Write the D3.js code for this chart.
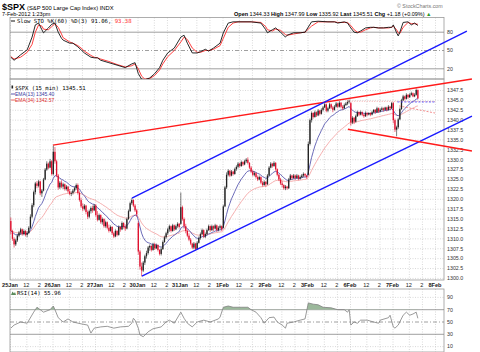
<!DOCTYPE html>
<html><head><meta charset="utf-8">
<script src="https://cdn.jsdelivr.net/npm/d3@7"></script>
<style>
body{margin:0;background:#fff}
svg{display:block;font-family:"Liberation Sans",Arial,sans-serif}
</style></head><body>
<svg id="chart" width="480" height="352"></svg>
<script>
// day labels on the time axis (26 bars of 15 min per session)
const days = ["25Jan","26Jan","27Jan","30Jan","31Jan","1Feb","2Feb","3Feb","6Feb","7Feb","8Feb"];

// [open, high, low, close] per 15 min bar, one array per session
const d25Jan = [[1314.5,1315.4,1311.2,1312.0],[1312.0,1312.3,1309.5,1310.0],[1310.0,1310.4,1307.8,1308.6],[1308.6,1310.0,1308.2,1309.6],[1309.6,1311.2,1309.2,1310.8],[1310.8,1312.0,1310.4,1311.6],[1311.6,1312.8,1311.0,1312.4],[1312.4,1312.6,1310.8,1311.2],[1311.2,1312.4,1310.9,1312.0],[1312.0,1312.2,1310.6,1311.0],[1311.0,1312.0,1310.4,1311.5],[1311.5,1313.2,1311.2,1312.8],[1312.8,1316.2,1312.5,1315.6],[1315.6,1319.0,1315.2,1318.5],[1318.5,1322.2,1318.0,1321.8],[1321.8,1324.4,1321.2,1324.0],[1324.0,1324.6,1322.8,1323.4],[1323.4,1324.9,1323.0,1324.5],[1324.5,1324.7,1321.0,1321.5],[1321.5,1322.6,1320.6,1322.2],[1322.2,1325.4,1322.0,1325.0],[1325.0,1327.9,1324.8,1327.5],[1327.5,1329.6,1327.2,1329.0],[1329.0,1329.3,1327.6,1328.0],[1328.0,1330.2,1327.8,1329.6],[1329.6,1329.9,1326.0,1326.4]];
const d26Jan = [[1326.4,1333.6,1326.0,1332.0],[1332.0,1333.2,1329.0,1329.6],[1329.6,1330.0,1325.6,1326.0],[1326.0,1326.4,1322.4,1323.0],[1323.0,1324.6,1322.6,1324.2],[1324.2,1324.8,1322.8,1323.2],[1323.2,1324.2,1322.6,1323.8],[1323.8,1324.0,1322.2,1322.6],[1322.6,1323.6,1322.2,1323.2],[1323.2,1323.4,1321.6,1322.0],[1322.0,1322.6,1321.0,1321.4],[1321.4,1322.0,1320.8,1321.6],[1321.6,1322.6,1321.2,1322.2],[1322.2,1323.2,1321.8,1322.8],[1322.8,1324.0,1322.4,1323.6],[1323.6,1324.0,1321.2,1321.6],[1321.6,1322.0,1319.4,1319.8],[1319.8,1320.4,1317.8,1318.2],[1318.2,1319.0,1317.0,1317.6],[1317.6,1318.8,1317.2,1318.4],[1318.4,1318.6,1316.2,1316.8],[1316.8,1317.2,1315.0,1315.6],[1315.6,1317.4,1315.2,1317.0],[1317.0,1318.2,1316.4,1317.8],[1317.8,1318.4,1316.6,1317.2],[1317.2,1318.8,1317.0,1318.4]];
const d27Jan = [[1318.4,1318.8,1315.6,1316.0],[1316.0,1317.0,1314.4,1314.8],[1314.8,1316.4,1314.6,1316.0],[1316.0,1316.2,1313.8,1314.2],[1314.2,1315.4,1313.6,1315.0],[1315.0,1315.2,1312.8,1313.2],[1313.2,1314.6,1312.8,1314.2],[1314.2,1314.4,1312.4,1312.8],[1312.8,1313.6,1311.6,1312.0],[1312.0,1313.4,1311.8,1313.0],[1313.0,1313.2,1311.0,1311.4],[1311.4,1311.8,1310.2,1310.6],[1310.6,1312.4,1310.4,1312.0],[1312.0,1312.2,1310.6,1311.0],[1311.0,1313.4,1310.8,1313.0],[1313.0,1313.2,1311.8,1312.4],[1312.4,1314.4,1312.2,1314.0],[1314.0,1314.2,1312.6,1313.0],[1313.0,1313.6,1312.0,1312.6],[1312.6,1315.4,1312.4,1315.0],[1315.0,1317.4,1314.8,1317.0],[1317.0,1319.4,1316.8,1319.0],[1319.0,1320.3,1318.6,1319.8],[1319.8,1320.0,1318.0,1318.4],[1318.4,1318.8,1316.8,1317.2],[1317.2,1317.6,1315.6,1316.2]];
const d30Jan = [[1314.0,1314.4,1306.0,1306.8],[1306.8,1307.2,1302.2,1303.0],[1303.0,1304.0,1300.5,1302.0],[1302.0,1304.4,1301.6,1304.0],[1304.0,1306.0,1303.4,1305.6],[1305.6,1307.0,1305.0,1306.4],[1306.4,1308.2,1306.0,1307.8],[1307.8,1308.6,1307.0,1308.2],[1308.2,1308.4,1306.8,1307.2],[1307.2,1309.0,1307.0,1308.6],[1308.6,1309.0,1307.2,1307.6],[1307.6,1308.8,1307.4,1308.4],[1308.4,1308.6,1306.8,1307.2],[1307.2,1307.4,1305.8,1306.2],[1306.2,1307.8,1305.8,1307.4],[1307.4,1309.6,1307.2,1309.2],[1309.2,1310.8,1309.0,1310.4],[1310.4,1311.8,1310.0,1311.4],[1311.4,1312.8,1311.0,1312.4],[1312.4,1313.6,1311.8,1313.2],[1313.2,1313.4,1311.6,1312.0],[1312.0,1313.8,1311.8,1313.4],[1313.4,1313.6,1312.0,1312.4],[1312.4,1313.6,1312.2,1313.2],[1313.2,1314.2,1312.8,1313.8],[1313.8,1314.0,1312.6,1313.0]];
const d31Jan = [[1313.8,1321.7,1313.6,1318.0],[1318.0,1318.4,1314.6,1315.0],[1315.0,1315.4,1312.6,1313.2],[1313.2,1313.8,1311.4,1312.0],[1312.0,1312.4,1310.4,1310.8],[1310.8,1311.4,1309.4,1309.8],[1309.8,1310.2,1308.4,1308.8],[1308.8,1309.0,1307.4,1307.8],[1307.8,1309.2,1307.4,1308.8],[1308.8,1309.0,1307.0,1307.4],[1307.4,1309.4,1307.2,1309.0],[1309.0,1310.6,1308.8,1310.2],[1310.2,1311.6,1309.8,1311.2],[1311.2,1312.6,1311.0,1312.2],[1312.2,1312.4,1310.2,1310.6],[1310.6,1311.6,1310.2,1311.2],[1311.2,1312.6,1311.0,1312.2],[1312.2,1313.6,1312.0,1313.2],[1313.2,1313.4,1311.8,1312.2],[1312.2,1313.6,1312.0,1313.2],[1313.2,1313.4,1312.0,1312.6],[1312.6,1313.8,1312.4,1313.4],[1313.4,1313.6,1311.8,1312.2],[1312.2,1313.2,1311.9,1312.8],[1312.8,1313.6,1312.4,1313.2],[1313.2,1313.4,1312.0,1312.4]];
const d1Feb = [[1312.8,1318.6,1312.6,1318.2],[1318.2,1323.4,1318.0,1323.0],[1323.0,1326.8,1322.6,1326.2],[1326.2,1327.6,1325.8,1327.2],[1327.2,1327.4,1325.6,1326.0],[1326.0,1327.4,1325.8,1327.0],[1327.0,1327.2,1326.0,1326.4],[1326.4,1328.0,1326.2,1327.6],[1327.6,1328.6,1327.2,1328.2],[1328.2,1329.4,1327.8,1329.0],[1329.0,1329.2,1328.0,1328.4],[1328.4,1329.8,1328.2,1329.4],[1329.4,1329.6,1328.4,1328.8],[1328.8,1330.0,1328.6,1329.6],[1329.6,1330.4,1329.2,1330.0],[1330.0,1330.6,1328.8,1329.2],[1329.2,1329.4,1327.6,1328.0],[1328.0,1328.4,1326.6,1327.0],[1327.0,1327.4,1325.8,1326.2],[1326.2,1327.0,1325.8,1326.6],[1326.6,1326.8,1325.2,1325.6],[1325.6,1326.0,1324.6,1325.0],[1325.0,1326.0,1324.8,1325.6],[1325.6,1325.8,1323.8,1324.2],[1324.2,1324.6,1323.2,1323.6],[1323.6,1324.8,1323.4,1324.4]];
const d2Feb = [[1324.4,1324.6,1323.2,1323.8],[1323.8,1326.4,1323.6,1326.0],[1326.0,1328.4,1325.8,1328.0],[1328.0,1329.4,1327.8,1329.0],[1329.0,1329.2,1328.0,1328.4],[1328.4,1329.6,1328.2,1329.2],[1329.2,1329.4,1327.2,1327.6],[1327.6,1327.8,1325.8,1326.2],[1326.2,1326.4,1324.6,1325.0],[1325.0,1325.4,1323.6,1324.0],[1324.0,1324.6,1323.0,1323.6],[1323.6,1323.8,1322.4,1322.8],[1322.8,1323.6,1322.3,1323.2],[1323.2,1323.4,1322.4,1322.8],[1322.8,1325.4,1322.6,1325.0],[1325.0,1326.4,1324.8,1326.0],[1326.0,1326.2,1325.0,1325.4],[1325.4,1326.4,1325.2,1326.0],[1326.0,1326.2,1325.0,1325.4],[1325.4,1326.4,1325.2,1326.0],[1326.0,1326.2,1324.8,1325.2],[1325.2,1326.0,1325.0,1325.6],[1325.6,1326.4,1325.4,1326.0],[1326.0,1326.8,1325.6,1326.4],[1326.4,1326.6,1325.6,1326.0],[1326.0,1326.2,1325.2,1325.6]];
const d3Feb = [[1326.2,1334.6,1326.0,1334.0],[1334.0,1340.4,1333.6,1340.0],[1340.0,1342.2,1339.4,1341.8],[1341.8,1342.0,1340.4,1340.8],[1340.8,1342.4,1340.6,1342.0],[1342.0,1342.2,1340.8,1341.2],[1341.2,1342.8,1341.0,1342.4],[1342.4,1342.6,1341.2,1341.6],[1341.6,1343.0,1341.4,1342.6],[1342.6,1343.6,1342.2,1343.2],[1343.2,1344.4,1343.0,1344.0],[1344.0,1344.2,1342.0,1342.4],[1342.4,1343.4,1342.0,1343.0],[1343.0,1344.4,1342.8,1344.0],[1344.0,1344.2,1342.8,1343.2],[1343.2,1343.6,1342.0,1342.6],[1342.6,1343.8,1342.4,1343.4],[1343.4,1344.6,1343.2,1344.2],[1344.2,1344.4,1343.0,1343.4],[1343.4,1344.8,1343.2,1344.4],[1344.4,1344.6,1343.0,1343.4],[1343.4,1343.8,1342.6,1343.0],[1343.0,1344.2,1342.8,1343.8],[1343.8,1344.6,1343.6,1344.2],[1344.2,1345.0,1343.8,1344.6],[1344.6,1345.2,1344.2,1344.9]];
const d6Feb = [[1344.3,1344.6,1338.6,1339.4],[1339.4,1341.0,1339.0,1340.6],[1340.6,1340.8,1339.0,1339.6],[1339.6,1341.4,1339.4,1341.0],[1341.0,1342.4,1340.8,1342.0],[1342.0,1342.2,1341.0,1341.4],[1341.4,1342.4,1341.2,1342.0],[1342.0,1342.2,1341.0,1341.4],[1341.4,1341.6,1340.6,1341.0],[1341.0,1342.2,1340.8,1341.8],[1341.8,1342.0,1341.0,1341.4],[1341.4,1342.0,1341.2,1341.8],[1341.8,1342.0,1341.0,1341.4],[1341.4,1342.4,1341.2,1342.0],[1342.0,1342.8,1341.8,1342.6],[1342.6,1342.8,1341.6,1342.0],[1342.0,1343.4,1341.8,1343.0],[1343.0,1343.2,1341.8,1342.2],[1342.2,1343.0,1342.0,1342.6],[1342.6,1343.4,1342.4,1343.0],[1343.0,1343.2,1342.2,1342.6],[1342.6,1343.4,1342.4,1343.2],[1343.2,1343.4,1342.2,1342.6],[1342.6,1343.8,1342.4,1343.4],[1343.4,1343.6,1342.6,1343.0],[1343.0,1344.6,1342.8,1344.3]];
const d7Feb = [[1344.3,1344.6,1339.2,1340.0],[1340.0,1340.4,1337.0,1337.6],[1337.6,1338.6,1335.9,1338.2],[1338.2,1340.6,1337.8,1340.2],[1340.2,1343.2,1340.0,1342.8],[1342.8,1345.4,1342.6,1345.0],[1345.0,1346.4,1344.8,1346.0],[1346.0,1346.2,1345.0,1345.4],[1345.4,1346.8,1345.2,1346.4],[1346.4,1346.6,1345.4,1345.8],[1345.8,1346.8,1345.6,1346.4],[1346.4,1347.2,1346.2,1346.8],[1346.8,1347.0,1345.8,1346.0],[1346.0,1346.8,1345.8,1346.4],[1346.4,1348.0,1346.2,1347.6],[1347.6,1347.8,1345.3,1345.5]];

// Slow STO %K(60) / %D(3) (bar index -> value)
const stoIdx = [0,2,6,10,13,15,17,19,20,23,25,27,29,31,32,36,38,41,43,45,49,51,53,55,60,65,70,74,76,78,80,82,85,88,91,93,96,100,104,106,108,111,114,116,119,121,124,128,130,133,136,139,147,153,156,157,160,162,165,168,169,173,177,180,184,188,194,198,200,204,206,208,210,212,214,217,220,222,225,228,231,233,234,236,237,238,240,243,245,247,249];
const stoK = [39,34,43,51,72,92,95,84,79,87,93,95,80,70,67,62,62,56,51,46,39,38,38,34,30,26,22,28,30,12,3,2,5,12,22,34,46,54,72,75,62,46,46,48,52,49,54,62,79,95,97,97,97,95,84,79,84,87,80,72,75,79,79,80,97,98,97,97,95,97,95,87,80,79,82,87,88,88,87,87,88,88,92,79,74,80,96,97,92,95,91];
const stoD = [40,36,39,47,60,80,92,90,85,84,89,94,88,77,71,64,62,58,54,49,42,39,38,36,32,27,23,25,28,20,8,3,4,9,18,28,40,50,64,72,68,54,47,47,50,50,52,58,70,88,95,97,97,96,89,84,82,85,83,76,75,77,79,80,90,97,97,97,96,96,96,91,84,80,80,84,87,88,87,87,87,88,90,84,79,78,88,96,94,94,93];

// RSI(14)
const rsiIdx = [0,2,6,10,14,16,18,20,24,26,27,29,32,35,38,43,47,49,51,55,59,63,67,72,74,75,76,78,79,81,84,87,92,95,97,100,104,106,108,111,114,118,122,127,128,130,133,136,141,145,147,150,153,155,158,161,163,166,168,169,173,177,180,182,185,188,191,196,200,204,206,207,208,210,212,214,218,222,225,226,231,232,234,235,237,240,242,244,246,248,249];
const rsiVal = [40,45,50,48,66,74,70,66,70,76,70,57,50,55,50,47,45,32,40,42,43,40,42,43,48,56,53,40,29,26,34,39,42,50,53,48,66,56,48,42,50,53,50,55,58,74,76,74,74,74,70,66,57,48,57,58,50,45,40,48,50,53,55,81,79,78,74,73,70,70,66,70,45,50,48,53,53,50,48,53,57,61,42,40,45,61,66,61,63,66,56];

const priceTicks = [1300.0,1302.5,1305.0,1307.5,1310.0,1312.5,1315.0,1317.5,1320.0,1322.5,1325.0,1327.5,1330.0,1332.5,1335.0,1337.5,1340.0,1342.5,1345.0,1347.5];
const stoTicks = [80,50,20];
const rsiTicks = [90,70,50,30,10];

// hand drawn annotation lines: [barIndex, price] -> [barIndex, price]
const trendLines = [
  {c:"#ff1a1a", a:[26.3,1333.7], b:[282.6,1350.4]},
  {c:"#1a1aff", a:[74.6,1320.3], b:[279.5,1362.5]},
  {c:"#1a1aff", a:[80.7,1300.6], b:[282.6,1341.0]},
  {c:"#ff1a1a", a:[206.7,1337.7], b:[282.6,1332.2]}
];
const dashLines = [
  {c:"#f09090", a:[206,1344.8], b:[260,1344.7], dash:"1,1.5"},
  {c:"#3a3aff", a:[237,1344.6], b:[260,1344.6], dash:"2,1.5"},
  {c:"#f07070", a:[238,1343.6], b:[260,1341.8], dash:"2,1.5"}
];

const bars = [].concat(d25Jan,d26Jan,d27Jan,d30Jan,d31Jan,d1Feb,d2Feb,d3Feb,d6Feb,d7Feb)
  .map((d,i) => ({i, o:d[0], h:d[1], l:d[2], c:d[3]}));

function ema(n) {
  const k = 2/(n+1); let e = bars[0].c;
  return bars.map(b => (e = b.c*k + e*(1-k)));
}
const ema13 = ema(13), ema34 = ema(34);

const svg = d3.select("#chart");
const L = 10, R = 444;
const sto = {t:17.5, b:79}, main = {t:79, b:280}, rsi = {t:289, b:352};

const x = d3.scaleLinear().domain([0,265.5]).range([L,R]);
const y = d3.scaleLinear().domain([1299.6,1350.4]).range([main.b,main.t]);
const yS = d3.scaleLinear().domain([0,100]).range([81,20]);
const yR = d3.scaleLinear().domain([0,100]).range([352.75,291.25]);

const defs = svg.append("defs");
[["cS",sto],["cM",main],["cR",rsi]].forEach(([id,p]) =>
  defs.append("clipPath").attr("id",id).append("rect")
    .attr("x",L).attr("y",p.t).attr("width",R-L).attr("height",p.b-p.t));
defs.append("clipPath").attr("id","cR70").append("rect")
  .attr("x",L).attr("y",rsi.t).attr("width",R-L).attr("height",yR(70)-rsi.t);

// vertical grid: session start, 12 and 2
const vgrid = [];
days.forEach((d,k) => [0,10,18].forEach(o => { if (k*26+o < 265.5) vgrid.push(k*26+o); }));

function panelGrid(p, hticks, ys) {
  const g = svg.append("g");
  g.selectAll("line.v").data(vgrid).join("line")
    .attr("x1",d=>x(d)+0.5).attr("x2",d=>x(d)+0.5).attr("y1",p.t).attr("y2",p.b)
    .attr("stroke","#c8c8c8").attr("stroke-width",0.7).attr("stroke-dasharray","1,1.5");
  g.selectAll("line.h").data(hticks).join("line")
    .attr("x1",L).attr("x2",R).attr("y1",d=>ys(d)).attr("y2",d=>ys(d))
    .attr("stroke","#c8c8c8").attr("stroke-width",0.7).attr("stroke-dasharray","1,1.5");
  g.append("rect").attr("x",L).attr("y",p.t).attr("width",R-L).attr("height",p.b-p.t)
    .attr("fill","none").attr("stroke","#999").attr("stroke-width",0.8);
  return g;
}
panelGrid(sto, [], yS);
panelGrid(main, priceTicks, y);
panelGrid(rsi, [90,10], yR);

// reference lines for oscillators
function refLines(ticks, ys) {
  svg.append("g").selectAll("line").data(ticks).join("line")
    .attr("x1",L).attr("x2",R).attr("y1",d=>ys(d)).attr("y2",d=>ys(d))
    .attr("stroke","#888").attr("stroke-width",0.8)
    .attr("stroke-dasharray",d=>d===50 ? "4,2,1,2" : null);
}
refLines([80,50,20], yS);
refLines([70,50,30], yR);

// axis labels on the right
function rightLabels(ticks, ys, fmt) {
  svg.append("g").selectAll("text").data(ticks).join("text")
    .attr("x",447).attr("y",d=>ys(d)+1.8).text(fmt)
    .attr("font-size",5.3).attr("fill","#333");
}
rightLabels(priceTicks, y, d3.format(".1f"));
rightLabels(stoTicks, yS, d=>d);
rightLabels(rsiTicks, yR, d=>d);

// time axis
const tl = svg.append("g").attr("font-size",5.6).attr("text-anchor","middle").attr("fill","#222");
vgrid.forEach(v => {
  const o = v % 26, k = Math.floor(v/26);
  tl.append("text").attr("x",x(v)).attr("y",286.5)
    .attr("font-weight",o===0 ? "bold" : "normal")
    .text(o===0 ? days[k] : (o===10 ? "12" : "2"));
});

// STO lines
const sK = stoIdx.map((d,i)=>[d,stoK[i]]), sD = stoIdx.map((d,i)=>[d,stoD[i]]);
const ls = d3.line().x(d=>x(d[0]+0.5)).y(d=>yS(d[1]));
const gS = svg.append("g").attr("clip-path","url(#cS)");
gS.append("path").attr("d",ls(sD)).attr("fill","none").attr("stroke","#ff2a2a").attr("stroke-width",0.9);
gS.append("path").attr("d",ls(sK)).attr("fill","none").attr("stroke","#111").attr("stroke-width",0.9);

// RSI
const rs = rsiIdx.map((d,i)=>[d,rsiVal[i]]);
svg.append("path").attr("clip-path","url(#cR70)")
  .attr("d",d3.area().x(d=>x(d[0]+0.5)).y0(yR(70)).y1(d=>yR(d[1]))(rs))
  .attr("fill","#9bb89b");
svg.append("path").attr("clip-path","url(#cR)")
  .attr("d",d3.line().x(d=>x(d[0]+0.5)).y(d=>yR(d[1]))(rs))
  .attr("fill","none").attr("stroke","#808080").attr("stroke-width",0.8);

// price: EMAs then candles
const gM = svg.append("g").attr("clip-path","url(#cM)");
const le = d3.line().x((d,i)=>x(i+0.5)).y(d=>y(d));
gM.append("path").attr("d",le(ema34)).attr("fill","none").attr("stroke","#f4a6a6").attr("stroke-width",0.9);
gM.append("path").attr("d",le(ema13)).attr("fill","none").attr("stroke","#5a5ab0").attr("stroke-width",0.9);
const col = d => d.c < d.o ? "#e0102e" : "#222";
gM.selectAll("line.w").data(bars).join("line")
  .attr("x1",d=>x(d.i+0.5)).attr("x2",d=>x(d.i+0.5)).attr("y1",d=>y(d.h)).attr("y2",d=>y(d.l))
  .attr("stroke",col).attr("stroke-width",0.6);
gM.selectAll("rect").data(bars).join("rect")
  .attr("x",d=>x(d.i+0.5)-0.65).attr("width",1.3)
  .attr("y",d=>y(Math.max(d.o,d.c)))
  .attr("height",d=>Math.max(0.6, Math.abs(y(d.o)-y(d.c))))
  .attr("fill",col);

// annotation lines
gM.selectAll("line.d").data(dashLines).join("line")
  .attr("x1",d=>x(d.a[0])).attr("y1",d=>y(d.a[1]))
  .attr("x2",d=>x(d.b[0])).attr("y2",d=>y(d.b[1]))
  .attr("stroke",d=>d.c).attr("stroke-width",0.8).attr("stroke-dasharray",d=>d.dash);
svg.append("g").selectAll("line").data(trendLines).join("line")
  .attr("x1",d=>x(d.a[0])).attr("y1",d=>y(d.a[1]))
  .attr("x2",d=>x(d.b[0])).attr("y2",d=>y(d.b[1]))
  .attr("stroke",d=>d.c).attr("stroke-width",1.4);

// header
svg.append("text").attr("x",2).attr("y",9.5).attr("font-size",9).attr("font-weight","bold").text("$SPX");
svg.append("text").attr("x",27).attr("y",9.5).attr("font-size",5.8).text("(S&P 500 Large Cap Index) INDX");
svg.append("text").attr("x",2).attr("y",16.2).attr("font-size",5.5).text("7-Feb-2012 1:23pm");
svg.append("text").attr("x",397).attr("y",8).attr("font-size",5.3).attr("fill","#777").text("\u00a9 StockCharts.com");
const hd = svg.append("text").attr("x",234).attr("y",15.5).attr("font-size",5.5);
[["Open ","1344.33 "],["High ","1347.99 "],["Low ","1335.92 "],["Last ","1345.51 "],["Chg ","+1.18 (+0.09%) "]].forEach(([a,b]) => {
  hd.append("tspan").attr("font-weight","bold").text(a);
  hd.append("tspan").text(b);
});
hd.append("tspan").attr("fill","#2a9a2a").text("\u25B2");

// legends
const mono = "'DejaVu Sans Mono','Liberation Mono',monospace";
svg.append("line").attr("x1",11).attr("x2",15).attr("y1",21).attr("y2",21).attr("stroke","#111").attr("stroke-width",1);
const st = svg.append("text").attr("x",17).attr("y",22.8).attr("font-size",5.6).attr("font-family",mono);
st.append("tspan").text("Slow STO %K(60) %D(3) 91.06, ");
st.append("tspan").attr("fill","#ff2a2a").text("93.38");

svg.append("rect").attr("x",11.5).attr("y",85.5).attr("width",1.6).attr("height",3).attr("fill","#222");
svg.append("text").attr("x",15).attr("y",89.5).attr("font-size",5.6).attr("font-family",mono).text("$SPX (15 min) 1345.51");
svg.append("line").attr("x1",11).attr("x2",15).attr("y1",94).attr("y2",94).attr("stroke","#5a5ab0");
svg.append("text").attr("x",15).attr("y",95.8).attr("font-size",5).attr("fill","#3a3aa0").text("EMA(13) 1345.40");
svg.append("line").attr("x1",11).attr("x2",15).attr("y1",100).attr("y2",100).attr("stroke","#f06a6a");
svg.append("text").attr("x",15).attr("y",101.8).attr("font-size",5).attr("fill","#e03030").text("EMA(34) 1342.57");

svg.append("path").attr("d","M11,295 L12.5,291.5 L14,293.5 L15,292 L16,295 Z").attr("fill","#5a8a5a");
svg.append("text").attr("x",17).attr("y",295.3).attr("font-size",5.6).attr("font-family",mono).text("RSI(14) 55.96");
</script>
</body></html>
